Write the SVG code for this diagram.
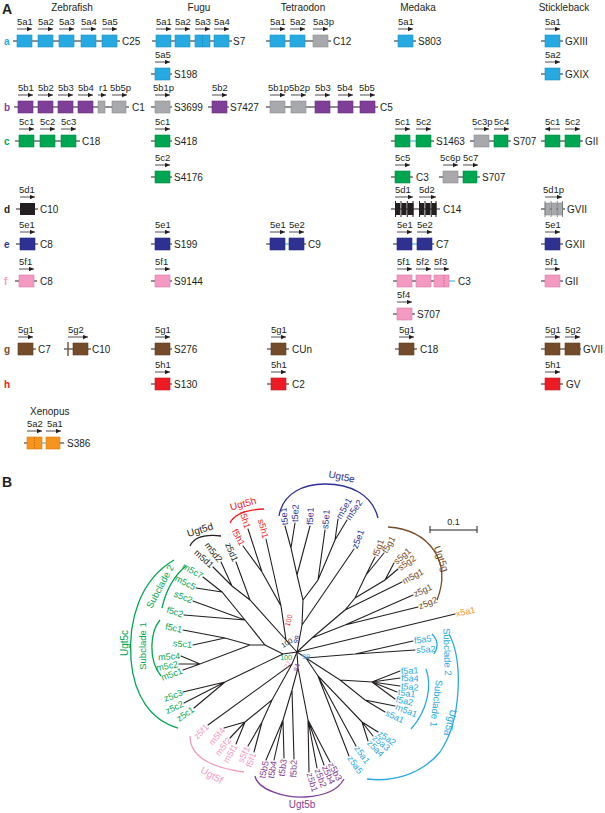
<svg xmlns="http://www.w3.org/2000/svg" width="605" height="813" viewBox="0 0 605 813">
<defs>
<marker id="ah" viewBox="0 0 6 6" refX="6" refY="3" markerWidth="5" markerHeight="5" markerUnits="userSpaceOnUse" orient="auto"><path d="M0,0.4 L6,3 L0,5.6z" fill="#231f20"/></marker>
<marker id="ahs" viewBox="0 0 6 6" refX="0" refY="3" markerWidth="5" markerHeight="5" markerUnits="userSpaceOnUse" orient="auto"><path d="M6,0.4 L0,3 L6,5.6z" fill="#231f20"/></marker>
</defs>
<style>
text{font-family:"Liberation Sans",Arial,sans-serif}
.ln{stroke:#231f20;stroke-width:1;fill:none}
.cn{stroke:#27aae1;stroke-width:1}
.ar{stroke:#231f20;stroke-width:0.8;marker-end:url(#ah)}
.arl{stroke:#231f20;stroke-width:0.8;marker-start:url(#ahs)}
.gl{font-size:9.5px;fill:#231f20}
.ch{font-size:10px;fill:#231f20}
.hd{font-size:10px;fill:#231f20;text-anchor:middle}
.pl{font-size:14px;font-weight:bold;fill:#231f20}
.rl{font-size:10px;font-weight:bold}
.ca{fill:#27aae1;stroke:#1c8fc2;stroke-width:0.6}
.cp{fill:#7f3f98;stroke:#66307d;stroke-width:0.6}
.cg{fill:#00a651;stroke:#008a43;stroke-width:0.6}
.cgr{fill:#a7a9ac;stroke:#8a8c8e;stroke-width:0.6}
.ck{fill:#231f20}
.cnv{fill:#2e3192;stroke:#252878;stroke-width:0.6}
.cpk{fill:#f49ac2;stroke:#d77ba4;stroke-width:0.6}
.cbr{fill:#754c29;stroke:#5e3c20;stroke-width:0.6}
.crd{fill:#ed1c24;stroke:#c8151c;stroke-width:0.6}
.cor{fill:#f7941d;stroke:#d87c10;stroke-width:0.6}
.dv{stroke-width:0.8;stroke-dasharray:1.5 1}
.br{stroke:#231f20;stroke-width:1.1;fill:none;stroke-linecap:round}
.tl{font-size:9px}
.bs{font-size:7px;text-anchor:middle}
.gp{font-size:10px;text-anchor:middle}
.arc{fill:none;stroke-width:1.3}
.kA{fill:#27aae1}.kB{fill:#7f3f98}.kC{fill:#00a651}.kD{fill:#231f20}.kE{fill:#2e3192}.kF{fill:#f49ac2}.kG{fill:#754c29}.kH{fill:#ed1c24}.kX{fill:#f7941d}
.sA{stroke:#27aae1}.sB{stroke:#7f3f98}.sC{stroke:#00a651}.sD{stroke:#231f20}.sE{stroke:#2e3192}.sF{stroke:#f49ac2}.sG{stroke:#754c29}.sH{stroke:#ed1c24}
.e{text-anchor:end}
</style>
<rect width="605" height="813" fill="#ffffff"/>

<g id="panelA-titles">
<text class="pl" x="2" y="14">A</text>
<text class="hd" x="72" y="11">Zebrafish</text>
<text class="hd" x="199" y="11">Fugu</text>
<text class="hd" x="303" y="11">Tetraodon</text>
<text class="hd" x="418" y="11">Medaka</text>
<text class="hd" x="564" y="11">Stickleback</text>
<text class="rl kA" x="4" y="44.5">a</text>
<text class="rl kB" x="4" y="110.5">b</text>
<text class="rl kC" x="4" y="144.5">c</text>
<text class="rl kD" x="4" y="212.5">d</text>
<text class="rl kE" x="4" y="247.5">e</text>
<text class="rl kF" x="4" y="284.5">f</text>
<text class="rl kG" x="4" y="352.5">g</text>
<text class="rl kH" x="4" y="387.5">h</text>
<text class="ch" x="30" y="415">Xenopus</text>
</g>

<g id="zf-a">
<line class="ln" x1="13" y1="41" x2="120" y2="41"/>
<text class="gl" x="17" y="25">5a1</text><line class="ar" x1="17" y1="29" x2="32" y2="29"/><rect class="ca" x="17" y="35" width="15" height="12"/>
<text class="gl" x="38" y="25">5a2</text><line class="ar" x1="38" y1="29" x2="53" y2="29"/><rect class="ca" x="38" y="35" width="15" height="12"/>
<text class="gl" x="59" y="25">5a3</text><line class="ar" x1="59" y1="29" x2="74" y2="29"/><rect class="ca" x="59" y="35" width="15" height="12"/>
<text class="gl" x="81" y="25">5a4</text><line class="ar" x1="81" y1="29" x2="96" y2="29"/><rect class="ca" x="81" y="35" width="15" height="12"/>
<text class="gl" x="102" y="25">5a5</text><line class="ar" x1="102" y1="29" x2="117" y2="29"/><rect class="ca" x="102" y="35" width="15" height="12"/>
<text class="ch" x="122" y="44.5">C25</text>
</g>
<g id="fugu-a">
<line class="ln" x1="152" y1="41" x2="232" y2="41"/>
<text class="gl" x="156" y="25">5a1</text><line class="ar" x1="156" y1="29" x2="171" y2="29"/><rect class="ca" x="156" y="35" width="15" height="12"/>
<text class="gl" x="175" y="25">5a2</text><line class="ar" x1="175" y1="29" x2="190" y2="29"/><rect class="ca" x="175" y="35" width="15" height="12"/>
<text class="gl" x="195" y="25">5a3</text><line class="ar" x1="195" y1="29" x2="210" y2="29"/><rect class="ca" x="195" y="35" width="15" height="12"/><line class="dv" x1="202.5" y1="35" x2="202.5" y2="47" stroke="#1c7fae"/>
<text class="gl" x="214" y="25">5a4</text><line class="ar" x1="214" y1="29" x2="229" y2="29"/><rect class="ca" x="214" y="35" width="15" height="12"/>
<text class="ch" x="233" y="44.5">S7</text>
</g>
<g id="tetra-a">
<line class="ln" x1="266" y1="41" x2="331" y2="41"/>
<text class="gl" x="270" y="25">5a1</text><line class="ar" x1="270" y1="29" x2="285" y2="29"/><rect class="ca" x="270" y="35" width="15" height="12"/>
<text class="gl" x="290" y="25">5a2</text><line class="ar" x1="290" y1="29" x2="305" y2="29"/><rect class="ca" x="290" y="35" width="15" height="12"/>
<text class="gl" x="313" y="25">5a3p</text><line class="ar" x1="313" y1="29" x2="328" y2="29"/><rect class="cgr" x="313" y="35" width="15" height="12"/>
<text class="ch" x="333" y="44.5">C12</text>
</g>
<g id="medaka-a">
<line class="ln" x1="394" y1="41" x2="416" y2="41"/>
<text class="gl" x="398" y="25">5a1</text><line class="ar" x1="398" y1="29" x2="413" y2="29"/><rect class="ca" x="398" y="35" width="15" height="12"/>
<text class="ch" x="418" y="44.5">S803</text>
</g>
<g id="stickle-a">
<line class="ln" x1="541" y1="41" x2="563" y2="41"/>
<text class="gl" x="545" y="25">5a1</text><line class="ar" x1="545" y1="29" x2="560" y2="29"/><rect class="ca" x="545" y="35" width="15" height="12"/>
<text class="ch" x="565" y="44.5">GXIII</text>
</g>
<g id="fugu-a2">
<line class="ln" x1="151" y1="74" x2="172" y2="74"/>
<text class="gl" x="155" y="58">5a5</text><line class="ar" x1="155" y1="62" x2="170" y2="62"/><rect class="ca" x="155" y="68" width="15" height="12"/>
<text class="ch" x="174" y="77.5">S198</text>
</g>
<g id="stickle-a2">
<line class="ln" x1="541" y1="74" x2="563" y2="74"/>
<text class="gl" x="545" y="58">5a2</text><line class="ar" x1="545" y1="62" x2="560" y2="62"/><rect class="ca" x="545" y="68" width="15" height="12"/>
<text class="ch" x="565" y="77.5">GXIX</text>
</g>

<g id="zf-b">
<line class="ln" x1="14" y1="107" x2="129" y2="107"/>
<text class="gl" x="18" y="91">5b1</text><line class="ar" x1="18" y1="95" x2="33" y2="95"/><rect class="cp" x="18" y="101" width="15" height="12"/>
<text class="gl" x="38" y="91">5b2</text><line class="ar" x1="38" y1="95" x2="53" y2="95"/><rect class="cp" x="38" y="101" width="15" height="12"/>
<text class="gl" x="58" y="91">5b3</text><line class="ar" x1="58" y1="95" x2="73" y2="95"/><rect class="cp" x="58" y="101" width="15" height="12"/>
<text class="gl" x="78" y="91">5b4</text><line class="ar" x1="78" y1="95" x2="93" y2="95"/><rect class="cp" x="78" y="101" width="15" height="12"/>
<text class="gl" x="99" y="91">r1</text><line class="ar" x1="98" y1="95" x2="106" y2="95"/><rect class="cgr" x="98" y="101" width="7" height="12"/>
<text class="gl" x="110" y="91">5b5p</text><line class="ar" x1="112" y1="95" x2="127" y2="95"/><rect class="cgr" x="112" y="101" width="14" height="12"/>
<text class="ch" x="132" y="110.5">C1</text>
</g>
<g id="fugu-b">
<line class="ln" x1="151" y1="107" x2="172" y2="107"/>
<text class="gl" x="153" y="91">5b1p</text><line class="ar" x1="155" y1="95" x2="170" y2="95"/><rect class="cgr" x="155" y="101" width="15" height="12"/>
<text class="ch" x="174" y="110.5">S3699</text>
<line class="ln" x1="208" y1="107" x2="229" y2="107"/>
<text class="gl" x="212" y="91">5b2</text><line class="ar" x1="212" y1="95" x2="227" y2="95"/><rect class="cp" x="212" y="101" width="15" height="12"/>
<text class="ch" x="230" y="110.5">S7427</text>
</g>
<g id="tetra-b">
<line class="ln" x1="266" y1="107" x2="378" y2="107"/>
<text class="gl" x="268" y="91">5b1p</text><line class="ar" x1="270" y1="95" x2="285" y2="95"/><rect class="cgr" x="270" y="101" width="15" height="12"/>
<text class="gl" x="289" y="91">5b2p</text><line class="ar" x1="291" y1="95" x2="306" y2="95"/><rect class="cgr" x="291" y="101" width="15" height="12"/>
<text class="gl" x="315" y="91">5b3</text><line class="ar" x1="315" y1="95" x2="330" y2="95"/><rect class="cp" x="315" y="101" width="15" height="12"/>
<text class="gl" x="337" y="91">5b4</text><line class="ar" x1="338" y1="95" x2="353" y2="95"/><rect class="cp" x="338" y="101" width="15" height="12"/>
<text class="gl" x="359" y="91">5b5</text><line class="ar" x1="360" y1="95" x2="375" y2="95"/><rect class="cp" x="360" y="101" width="15" height="12"/>
<text class="ch" x="380" y="110.5">C5</text>
</g>

<g id="zf-c">
<line class="ln" x1="15" y1="141" x2="80" y2="141"/>
<text class="gl" x="19" y="125">5c1</text><line class="ar" x1="19" y1="129" x2="34" y2="129"/><rect class="cg" x="19" y="135" width="15" height="12"/>
<text class="gl" x="40" y="125">5c2</text><line class="ar" x1="40" y1="129" x2="55" y2="129"/><rect class="cg" x="40" y="135" width="15" height="12"/>
<text class="gl" x="61" y="125">5c3</text><line class="ar" x1="61" y1="129" x2="76" y2="129"/><rect class="cg" x="61" y="135" width="15" height="12"/>
<text class="ch" x="82" y="144.5">C18</text>
</g>
<g id="fugu-c">
<line class="ln" x1="151" y1="141" x2="172" y2="141"/>
<text class="gl" x="155" y="125">5c1</text><line class="ar" x1="155" y1="129" x2="170" y2="129"/><rect class="cg" x="155" y="135" width="15" height="12"/>
<text class="ch" x="174" y="144.5">S418</text>
</g>
<g id="medaka-c">
<line class="ln" x1="391" y1="141" x2="395" y2="141"/><line class="cn" x1="410" y1="141" x2="416" y2="141"/><line class="ln" x1="431" y1="141" x2="434" y2="141"/>
<text class="gl" x="395" y="125">5c1</text><line class="ar" x1="395" y1="129" x2="410" y2="129"/><rect class="cg" x="395" y="135" width="15" height="12"/>
<text class="gl" x="416" y="125">5c2</text><line class="ar" x1="416" y1="129" x2="431" y2="129"/><rect class="cg" x="416" y="135" width="15" height="12"/>
<text class="ch" x="436" y="144.5">S1463</text>
<line class="ln" x1="470" y1="141" x2="511" y2="141"/>
<text class="gl" x="472" y="125">5c3p</text><line class="ar" x1="474" y1="129" x2="489" y2="129"/><rect class="cgr" x="474" y="135" width="15" height="12"/>
<text class="gl" x="494" y="125">5c4</text><line class="ar" x1="494" y1="129" x2="509" y2="129"/><rect class="cg" x="494" y="135" width="14" height="12"/>
<text class="ch" x="513" y="144.5">S707</text>
</g>
<g id="stickle-c">
<line class="ln" x1="541" y1="141" x2="583" y2="141"/>
<text class="gl" x="545" y="125">5c1</text><line class="arl" x1="545" y1="129" x2="560" y2="129"/><rect class="cg" x="545" y="135" width="15" height="12"/>
<text class="gl" x="565" y="125">5c2</text><line class="ar" x1="565" y1="129" x2="580" y2="129"/><rect class="cg" x="565" y="135" width="15" height="12"/>
<text class="ch" x="585" y="144.5">GII</text>
</g>
<g id="fugu-c2">
<line class="ln" x1="151" y1="177" x2="172" y2="177"/>
<text class="gl" x="155" y="161">5c2</text><line class="ar" x1="155" y1="165" x2="170" y2="165"/><rect class="cg" x="155" y="171" width="15" height="12"/>
<text class="ch" x="174" y="180.5">S4176</text>
</g>
<g id="medaka-c2">
<line class="ln" x1="391" y1="177" x2="413" y2="177"/>
<text class="gl" x="395" y="161">5c5</text><line class="ar" x1="395" y1="165" x2="410" y2="165"/><rect class="cg" x="395" y="171" width="15" height="12"/>
<text class="ch" x="416" y="180.5">C3</text>
<line class="ln" x1="439" y1="177" x2="480" y2="177"/>
<text class="gl" x="440" y="161">5c6p</text><line class="ar" x1="443" y1="165" x2="458" y2="165"/><rect class="cgr" x="443" y="171" width="15" height="12"/>
<text class="gl" x="463" y="161">5c7</text><line class="ar" x1="463" y1="165" x2="478" y2="165"/><rect class="cg" x="463" y="171" width="14" height="12"/>
<text class="ch" x="482" y="180.5">S707</text>
</g>

<g id="zf-d">
<line class="ln" x1="16" y1="209" x2="38" y2="209"/>
<text class="gl" x="19" y="193">5d1</text><line class="ar" x1="20" y1="197" x2="35" y2="197"/><rect class="ck" x="20" y="203" width="15" height="12"/>
<text class="ch" x="40" y="212.5">C10</text>
</g>
<g id="medaka-d">
<line class="ln" x1="391" y1="209" x2="440" y2="209"/>
<text class="gl" x="395" y="193">5d1</text><line class="ar" x1="395" y1="197" x2="413" y2="197"/>
<rect class="ck" x="395" y="203" width="5" height="12"/><rect class="ck" x="401.5" y="203" width="5" height="12"/><rect class="ck" x="408" y="203" width="5.5" height="12"/>
<path class="ln" d="M395.5,201V217M401,201V217M407.3,201V217M413,201V217"/>
<text class="gl" x="419" y="193">5d2</text><line class="ar" x1="419" y1="197" x2="436" y2="197"/>
<rect class="ck" x="419" y="203" width="5" height="12"/><rect class="ck" x="425.5" y="203" width="5" height="12"/><rect class="ck" x="432" y="203" width="4.5" height="12"/>
<path class="ln" d="M419.5,201V217M425,201V217M431.3,201V217M436,201V217"/>
<text class="ch" x="443" y="212.5">C14</text>
</g>
<g id="stickle-d">
<line class="ln" x1="541" y1="209" x2="565" y2="209"/>
<text class="gl" x="543" y="193">5d1p</text><line class="ar" x1="545" y1="197" x2="562" y2="197"/>
<rect class="cgr" x="545" y="203" width="5" height="12"/><rect class="cgr" x="551.5" y="203" width="5" height="12"/><rect class="cgr" x="558" y="203" width="4.5" height="12"/>
<path d="M545,201V217M551,201V217M557.3,201V217M562.5,201V217" stroke="#6d6e70" stroke-width="0.8" fill="none"/>
<text class="ch" x="567" y="212.5">GVII</text>
</g>

<g id="zf-e">
<line class="ln" x1="16" y1="244" x2="38" y2="244"/>
<text class="gl" x="19" y="228">5e1</text><line class="ar" x1="20" y1="232" x2="35" y2="232"/><rect class="cnv" x="20" y="238" width="15" height="12"/>
<text class="ch" x="40" y="247.5">C8</text>
</g>
<g id="fugu-e">
<line class="ln" x1="151" y1="244" x2="172" y2="244"/>
<text class="gl" x="155" y="228">5e1</text><line class="ar" x1="155" y1="232" x2="170" y2="232"/><rect class="cnv" x="155" y="238" width="15" height="12"/>
<text class="ch" x="174" y="247.5">S199</text>
</g>
<g id="tetra-e">
<line class="ln" x1="266" y1="244" x2="270" y2="244"/><line class="cn" x1="285" y1="244" x2="289" y2="244"/><line class="ln" x1="304" y1="244" x2="306" y2="244"/>
<text class="gl" x="270" y="228">5e1</text><line class="ar" x1="270" y1="232" x2="285" y2="232"/><rect class="cnv" x="270" y="238" width="15" height="12"/>
<text class="gl" x="289" y="228">5e2</text><line class="ar" x1="289" y1="232" x2="304" y2="232"/><rect class="cnv" x="289" y="238" width="15" height="12"/>
<text class="ch" x="308" y="247.5">C9</text>
</g>
<g id="medaka-e">
<line class="ln" x1="393" y1="244" x2="397" y2="244"/><line class="cn" x1="412" y1="244" x2="417" y2="244"/><line class="ln" x1="432" y1="244" x2="434" y2="244"/>
<text class="gl" x="397" y="228">5e1</text><line class="ar" x1="397" y1="232" x2="412" y2="232"/><rect class="cnv" x="397" y="238" width="15" height="12"/>
<text class="gl" x="417" y="228">5e2</text><line class="ar" x1="417" y1="232" x2="432" y2="232"/><rect class="cnv" x="417" y="238" width="15" height="12"/>
<text class="ch" x="436" y="247.5">C7</text>
</g>
<g id="stickle-e">
<line class="ln" x1="541" y1="244" x2="563" y2="244"/>
<text class="gl" x="545" y="228">5e1</text><line class="ar" x1="545" y1="232" x2="560" y2="232"/><rect class="cnv" x="545" y="238" width="15" height="12"/>
<text class="ch" x="565" y="247.5">GXII</text>
</g>

<g id="zf-f">
<line class="ln" x1="15" y1="281" x2="37" y2="281"/>
<text class="gl" x="19" y="265">5f1</text><line class="ar" x1="19" y1="269" x2="34" y2="269"/><rect class="cpk" x="19" y="275" width="15" height="12"/>
<text class="ch" x="40" y="284.5">C8</text>
</g>
<g id="fugu-f">
<line class="ln" x1="151" y1="281" x2="172" y2="281"/>
<text class="gl" x="155" y="265">5f1</text><line class="ar" x1="155" y1="269" x2="170" y2="269"/><rect class="cpk" x="155" y="275" width="15" height="12"/>
<text class="ch" x="174" y="284.5">S9144</text>
</g>
<g id="medaka-f">
<line class="ln" x1="393" y1="281" x2="449" y2="281"/><line class="cn" x1="449" y1="281" x2="455" y2="281"/>
<text class="gl" x="397" y="265">5f1</text><line class="ar" x1="397" y1="269" x2="412" y2="269"/><rect class="cpk" x="397" y="275" width="15" height="12"/>
<text class="gl" x="416" y="265">5f2</text><line class="ar" x1="416" y1="269" x2="431" y2="269"/><rect class="cpk" x="416" y="275" width="15" height="12"/>
<text class="gl" x="434" y="265">5f3</text><line class="ar" x1="434" y1="269" x2="449" y2="269"/><rect class="cpk" x="434" y="275" width="15" height="12"/><line class="dv" x1="444" y1="275" x2="444" y2="287" stroke="#c0608c"/>
<text class="ch" x="458" y="284.5">C3</text>
</g>
<g id="stickle-f">
<line class="ln" x1="541" y1="281" x2="563" y2="281"/>
<text class="gl" x="545" y="265">5f1</text><line class="ar" x1="545" y1="269" x2="560" y2="269"/><rect class="cpk" x="545" y="275" width="15" height="12"/>
<text class="ch" x="565" y="284.5">GII</text>
</g>
<g id="medaka-f2">
<line class="ln" x1="393" y1="314" x2="415" y2="314"/>
<text class="gl" x="397" y="298">5f4</text><line class="ar" x1="397" y1="302" x2="412" y2="302"/><rect class="cpk" x="397" y="308" width="15" height="12"/>
<text class="ch" x="417" y="317.5">S707</text>
</g>

<g id="zf-g">
<line class="ln" x1="33" y1="349" x2="36" y2="349"/>
<text class="gl" x="18" y="333">5g1</text><line class="ar" x1="18" y1="337" x2="33" y2="337"/><rect class="cbr" x="18" y="343" width="15" height="12"/>
<text class="ch" x="38" y="352.5">C7</text>
<line class="ln" x1="64" y1="349" x2="91" y2="349"/>
<line x1="68" y1="342" x2="68" y2="356" stroke="#754c29" stroke-width="1.4"/>
<text class="gl" x="68" y="333">5g2</text><line class="ar" x1="68" y1="337" x2="88" y2="337"/><rect class="cbr" x="73" y="343" width="15" height="12"/>
<text class="ch" x="92" y="352.5">C10</text>
</g>
<g id="fugu-g">
<line class="ln" x1="151" y1="349" x2="172" y2="349"/>
<text class="gl" x="155" y="333">5g1</text><line class="ar" x1="155" y1="337" x2="170" y2="337"/><rect class="cbr" x="155" y="343" width="15" height="12"/>
<text class="ch" x="174" y="352.5">S276</text>
</g>
<g id="tetra-g">
<line class="ln" x1="267" y1="349" x2="289" y2="349"/>
<text class="gl" x="271" y="333">5g1</text><line class="ar" x1="271" y1="337" x2="286" y2="337"/><rect class="cbr" x="271" y="343" width="15" height="12"/>
<text class="ch" x="292" y="352.5">CUn</text>
</g>
<g id="medaka-g">
<line class="ln" x1="395" y1="349" x2="417" y2="349"/>
<text class="gl" x="399" y="333">5g1</text><line class="ar" x1="399" y1="337" x2="414" y2="337"/><rect class="cbr" x="399" y="343" width="15" height="12"/>
<text class="ch" x="420" y="352.5">C18</text>
</g>
<g id="stickle-g">
<line class="ln" x1="541" y1="349" x2="581" y2="349"/>
<text class="gl" x="545" y="333">5g1</text><line class="ar" x1="545" y1="337" x2="560" y2="337"/><rect class="cbr" x="545" y="343" width="15" height="12"/>
<text class="gl" x="565" y="333">5g2</text><line class="ar" x1="565" y1="337" x2="580" y2="337"/><rect class="cbr" x="565" y="343" width="15" height="12"/>
<text class="ch" x="583" y="352.5">GVII</text>
</g>

<g id="fugu-h">
<line class="ln" x1="151" y1="384" x2="172" y2="384"/>
<text class="gl" x="155" y="368">5h1</text><line class="ar" x1="155" y1="372" x2="170" y2="372"/><rect class="crd" x="155" y="378" width="15" height="12"/>
<text class="ch" x="174" y="387.5">S130</text>
</g>
<g id="tetra-h">
<line class="ln" x1="267" y1="384" x2="289" y2="384"/>
<text class="gl" x="271" y="368">5h1</text><line class="ar" x1="271" y1="372" x2="286" y2="372"/><rect class="crd" x="271" y="378" width="15" height="12"/>
<text class="ch" x="292" y="387.5">C2</text>
</g>
<g id="stickle-h">
<line class="ln" x1="541" y1="384" x2="563" y2="384"/>
<text class="gl" x="545" y="368">5h1</text><line class="ar" x1="545" y1="372" x2="560" y2="372"/><rect class="crd" x="545" y="378" width="15" height="12"/>
<text class="ch" x="566" y="387.5">GV</text>
</g>

<g id="xen-a">
<line class="ln" x1="24" y1="443" x2="27" y2="443"/><line class="cn" x1="42" y1="443" x2="46" y2="443"/><line class="ln" x1="60" y1="443" x2="64" y2="443"/>
<text class="gl" x="27" y="427">5a2</text><line class="ar" x1="27" y1="431" x2="42" y2="431"/><rect class="cor" x="27" y="437" width="15" height="12"/><line class="dv" x1="34.5" y1="437" x2="34.5" y2="449" stroke="#c06a00"/>
<text class="gl" x="47" y="427">5a1</text><line class="ar" x1="46" y1="431" x2="61" y2="431"/><rect class="cor" x="46" y="437" width="14" height="12"/>
<text class="ch" x="67" y="446.5">S386</text>
</g>

<text class="pl" x="2" y="487">B</text>

<g id="tree-branches">
<path class="br" d="M297,652L286,640L281,606L262,572L248,529M262,572L243,546M281,606L266,539M286,640L250,600L232,586L213,567M232,586L221,562M250,600L236,562"/>
<path class="br" d="M297,652L302,625L303,600L297,575L291,548L285,526M291,548L295,523M297,575L310,526M303,600L318,580L325,530M318,580L335,540L338,519M335,540L347,520M302,625L354,549"/>
<path class="br" d="M297,652L312,638L345,610L355,598L366,575L375,557M366,575L384,553M355,598L385,580L394,563M385,580L398,569M345,610L402,582M312,638L345,625L413,595M345,625L418,607"/>
<path class="br" d="M297,652L455,614"/>
<path class="br" d="M297,652L306,658L355,654L413,641M355,654L415,650M306,658L340,680L372,682L400,671M372,682L400,678M372,682L400,686M372,682L397,692M372,682L395,699M340,680L365,700L395,706M365,700L385,712M306,658L318,676L362,722L378,732M362,722L373,736M362,722L368,741M318,676L356,746M318,676L349,756"/>
<path class="br" d="M297,652L298,668L308,720L309,772M308,720L317,768M308,720L324,765M308,720L330,762M298,668L292,690L283,720L266,760M283,720L274,760M283,720L284,758M292,690L294,759"/>
<path class="br" d="M297,652L292,664L208,725M292,664L272,700L245,722L224,728M245,722L230,738M245,722L236,744M272,700L262,722L248,746M262,722L254,752"/>
<path class="br" d="M297,652L283,654L265,645L245,620L222,592L203,577M222,592L196,588M245,620L193,601M245,620L184,615M265,645L250,645L225,638L183,630M225,638L193,645M250,645L200,664L181,656M200,664L179,664M200,664L183,670M283,654L225,682L183,692M225,682L184,703M225,682L194,708"/>
<path class="ln" d="M430,530H477M430,526V533M477,526V533"/>
<text class="tl" x="453.5" y="525" text-anchor="middle" fill="#231f20">0.1</text>
</g>

<g id="clade-h">
<path class="arc sH" d="M230,523 Q236,510 264,509"/>
<text class="gp kH" transform="translate(244,507) rotate(-15)">Ugt5h</text>
<text class="tl kH e" transform="translate(248,529) rotate(72)" x="-1" y="3">t5h1</text>
<text class="tl kH e" transform="translate(243,546) rotate(62)" x="-1" y="3">f5h1</text>
<text class="tl kH e" transform="translate(266,539) rotate(75)" x="-1" y="3">s5h1</text>
</g>
<g id="clade-d">
<path class="arc sD" d="M190,546 Q196,533 221,536"/>
<text class="gp kD" transform="translate(201,533) rotate(-17)">Ugt5d</text>
<text class="tl kD e" transform="translate(213,567) rotate(42)" x="-1" y="3">m5d1</text>
<text class="tl kD e" transform="translate(221,562) rotate(52)" x="-1" y="3">m5d2</text>
<text class="tl kD e" transform="translate(236,562) rotate(66)" x="-1" y="3">z5d1</text>
</g>
<g id="clade-e">
<path class="arc sE" d="M279,516 C283,492 305,484 325,484 C350,484 372,494 378,518"/>
<text class="gp kE" transform="translate(341,480) rotate(12)">Ugt5e</text>
<text class="tl kE" transform="translate(285,526) rotate(-95)" x="1" y="3">t5e1</text>
<text class="tl kE" transform="translate(295,523) rotate(-88)" x="1" y="3">t5e2</text>
<text class="tl kE" transform="translate(310,526) rotate(-88)" x="1" y="3">f5e1</text>
<text class="tl kE" transform="translate(325,530) rotate(-85)" x="1" y="3">s5e1</text>
<text class="tl kE" transform="translate(338,519) rotate(-60)" x="1" y="3">m5e1</text>
<text class="tl kE" transform="translate(347,520) rotate(-55)" x="1" y="3">m5e2</text>
<text class="tl kE" transform="translate(354,549) rotate(-68)" x="1" y="3">z5e1</text>
</g>
<g id="clade-g">
<path class="arc sG" d="M388,527 C430,530 452,562 437,600"/>
<text class="gp kG" transform="translate(438,560) rotate(70)">Ugt5g</text>
<text class="tl kG" transform="translate(375,557) rotate(-70)" x="1" y="3">f5g1</text>
<text class="tl kG" transform="translate(384,553) rotate(-60)" x="1" y="3">t5g1</text>
<text class="tl kG" transform="translate(394,563) rotate(-40)" x="1" y="3">s5g1</text>
<text class="tl kG" transform="translate(398,569) rotate(-35)" x="1" y="3">s5g2</text>
<text class="tl kG" transform="translate(402,582) rotate(-28)" x="1" y="3">m5g1</text>
<text class="tl kG" transform="translate(413,595) rotate(-25)" x="1" y="3">z5g1</text>
<text class="tl kG" transform="translate(418,607) rotate(-22)" x="1" y="3">z5g2</text>
</g>
<g id="leaf-x5a1">
<text class="tl kX" transform="translate(455,614) rotate(-12)" x="1" y="3">x5a1</text>
</g>
<g id="clade-a">
<path class="arc sA" d="M432,634 Q441,643 434,654"/>
<text class="tl kA" transform="translate(444,652) rotate(88)" text-anchor="middle" style="font-size:9.5px">Subclade 2</text>
<path class="arc sA" d="M426,669 C432,685 428,710 411,729"/>
<text class="tl kA" transform="translate(433,703) rotate(97)" text-anchor="middle" style="font-size:9.5px">Subclade 1</text>
<path class="arc sA" d="M449,634 C463,660 462,720 440,752 C420,776 390,782 367,779"/>
<text class="gp kA" transform="translate(447,722) rotate(105)">Ugt5a</text>
<text class="tl kA" transform="translate(413,641) rotate(-8)" x="1" y="3">f5a5</text>
<text class="tl kA" transform="translate(415,650) rotate(-3)" x="1" y="3">s5a2</text>
<text class="tl kA" transform="translate(400,671) rotate(-2)" x="1" y="3">f5a1</text>
<text class="tl kA" transform="translate(400,678) rotate(2)" x="1" y="3">f5a4</text>
<text class="tl kA" transform="translate(400,686) rotate(5)" x="1" y="3">t5a2</text>
<text class="tl kA" transform="translate(397,692) rotate(8)" x="1" y="3">t5a1</text>
<text class="tl kA" transform="translate(395,699) rotate(12)" x="1" y="3">f5a2</text>
<text class="tl kA" transform="translate(395,706) rotate(22)" x="1" y="3">m5a1</text>
<text class="tl kA" transform="translate(385,712) rotate(25)" x="1" y="3">s5a1</text>
<text class="tl kA" transform="translate(378,732) rotate(35)" x="1" y="3">z5a2</text>
<text class="tl kA" transform="translate(373,736) rotate(40)" x="1" y="3">z5a3</text>
<text class="tl kA" transform="translate(368,741) rotate(45)" x="1" y="3">z5a4</text>
<text class="tl kA" transform="translate(356,746) rotate(55)" x="1" y="3">z5a1</text>
<text class="tl kA" transform="translate(349,756) rotate(55)" x="1" y="3">z5a5</text>
</g>
<g id="clade-b">
<path class="arc sB" d="M255,776 C258,790 285,798 305,797 C325,796 338,790 344,779"/>
<text class="gp kB" x="302" y="808">Ugt5b</text>
<text class="tl kB" transform="translate(330,762) rotate(62)" x="1" y="3">z5b3</text>
<text class="tl kB" transform="translate(324,765) rotate(65)" x="1" y="3">z5b4</text>
<text class="tl kB" transform="translate(317,768) rotate(70)" x="1" y="3">z5b2</text>
<text class="tl kB" transform="translate(309,772) rotate(73)" x="1" y="3">z5b1</text>
<text class="tl kB e" transform="translate(294,759) rotate(-88)" x="-1" y="3">f5b2</text>
<text class="tl kB e" transform="translate(284,758) rotate(-82)" x="-1" y="3">t5b3</text>
<text class="tl kB e" transform="translate(274,760) rotate(-80)" x="-1" y="3">t5b4</text>
<text class="tl kB e" transform="translate(266,760) rotate(-78)" x="-1" y="3">t5b5</text>
</g>
<g id="clade-f">
<path class="arc sF" d="M190,736 C190,754 206,767 244,772"/>
<text class="gp kF" transform="translate(210,778) rotate(30)">Ugt5f</text>
<text class="tl kF e" transform="translate(208,725) rotate(-45)" x="-1" y="3">z5f1</text>
<text class="tl kF e" transform="translate(224,728) rotate(-50)" x="-1" y="3">m5f4</text>
<text class="tl kF e" transform="translate(230,738) rotate(-52)" x="-1" y="3">m5f2</text>
<text class="tl kF e" transform="translate(236,744) rotate(-60)" x="-1" y="3">m5f1</text>
<text class="tl kF e" transform="translate(248,746) rotate(-65)" x="-1" y="3">s5f1</text>
<text class="tl kF e" transform="translate(254,752) rotate(-70)" x="-1" y="3">f5f1</text>
</g>
<g id="clade-c">
<path class="arc sC" d="M174,560 C140,580 128,620 131,660 C134,695 150,720 178,728"/>
<text class="gp kC" transform="translate(128,643) rotate(-90)">Ugt5c</text>
<path class="arc sC" d="M186,566 C175,575 166,590 162,608"/>
<text class="tl kC" transform="translate(163,588) rotate(-62)" text-anchor="middle" style="font-size:9.5px">Subclade 2</text>
<path class="arc sC" d="M160,620 C150,632 148,660 161,676"/>
<text class="tl kC" transform="translate(146,646) rotate(-90)" text-anchor="middle" style="font-size:9.5px">Subclade 1</text>
<text class="tl kC e" transform="translate(203,577) rotate(30)" x="-1" y="3">m5c7</text>
<text class="tl kC e" transform="translate(196,588) rotate(27)" x="-1" y="3">m5c5</text>
<text class="tl kC e" transform="translate(193,601) rotate(22)" x="-1" y="3">s5c2</text>
<text class="tl kC e" transform="translate(184,615) rotate(18)" x="-1" y="3">f5c2</text>
<text class="tl kC e" transform="translate(183,630) rotate(12)" x="-1" y="3">f5c1</text>
<text class="tl kC e" transform="translate(193,645) rotate(5)" x="-1" y="3">s5c1</text>
<text class="tl kC e" transform="translate(181,656) rotate(-3)" x="-1" y="3">m5c4</text>
<text class="tl kC e" transform="translate(179,664) rotate(-10)" x="-1" y="3">m5c2</text>
<text class="tl kC e" transform="translate(183,670) rotate(-20)" x="-1" y="3">m5c1</text>
<text class="tl kC e" transform="translate(183,692) rotate(-20)" x="-1" y="3">z5c3</text>
<text class="tl kC e" transform="translate(184,703) rotate(-25)" x="-1" y="3">z5c2</text>
<text class="tl kC e" transform="translate(194,708) rotate(-35)" x="-1" y="3">z5c1</text>
</g>
<g id="bootstrap">
<text class="bs kH" transform="translate(291,621) rotate(-75)">100</text>
<text class="bs kD" transform="translate(288,645) rotate(-30)">100</text>
<text class="bs kC" x="286" y="660">100</text>
<text class="bs kE" transform="translate(299,640) rotate(-75)">99</text>
<text class="bs kA" x="306" y="659">99</text>
<text class="bs kF" transform="translate(290,666) rotate(-60)">77</text>
<text class="bs kB" transform="translate(299,668) rotate(-75)">84</text>
</g>
</svg>
